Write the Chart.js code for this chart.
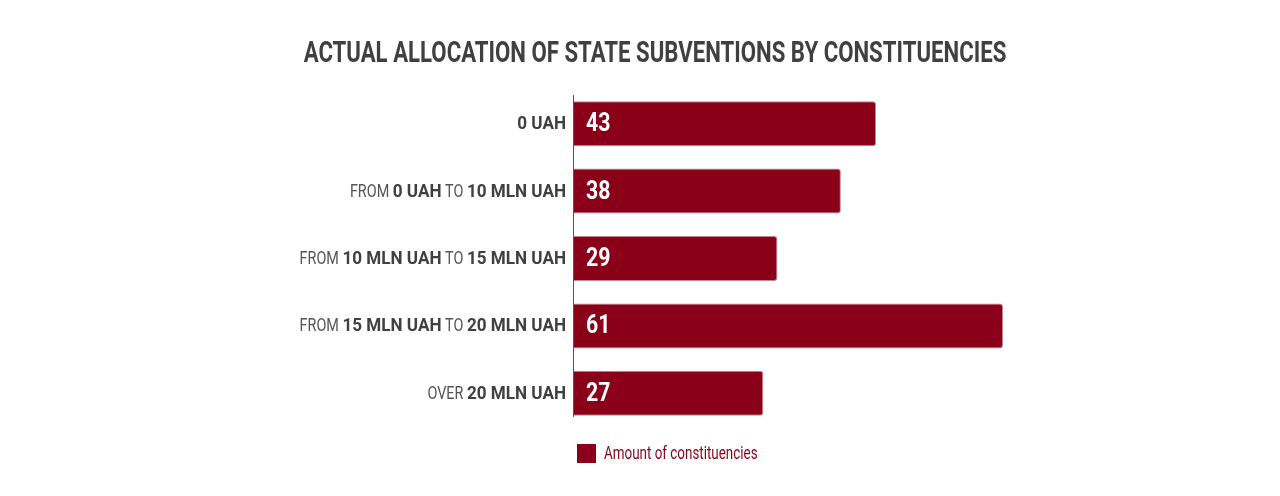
<!DOCTYPE html>
<html>
<head>
<meta charset="utf-8">
<script src="https://cdn.jsdelivr.net/npm/chart.js@4.4.0/dist/chart.umd.min.js"></script>
<style>
  html, body { margin: 0; padding: 0; background: #fff; }
  #wrap { width: 1280px; height: 496px; position: relative; }
</style>
</head>
<body>
<div id="wrap"><canvas id="subventionsChart"></canvas></div>
<script>
const chartTitle = "ACTUAL ALLOCATION OF STATE SUBVENTIONS BY CONSTITUENCIES";
const categories = [
  "0 UAH",
  "FROM 0 UAH TO 10 MLN UAH",
  "FROM 10 MLN UAH TO 15 MLN UAH",
  "FROM 15 MLN UAH TO 20 MLN UAH",
  "OVER 20 MLN UAH"
];
// label parts: [text, bold]
const categoryParts = [
  [["0 UAH", true]],
  [["FROM ", false], ["0 UAH", true], [" TO ", false], ["10 MLN UAH", true]],
  [["FROM ", false], ["10 MLN UAH", true], [" TO ", false], ["15 MLN UAH", true]],
  [["FROM ", false], ["15 MLN UAH", true], [" TO ", false], ["20 MLN UAH", true]],
  [["OVER ", false], ["20 MLN UAH", true]]
];
const seriesLabel = "Amount of constituencies";
const constituencies = [43, 38, 29, 61, 27];

const BAR_COLOR = "#8a0019";
const SQUEEZE_BOLD = 0.95;
const SQUEEZE_REG = 0.8;

function drawCondensed(ctx, text, x, y, font, color, align, squeeze) {
  ctx.save();
  ctx.font = font;
  ctx.fillStyle = color;
  ctx.textBaseline = "middle";
  ctx.textAlign = "left";
  const w = ctx.measureText(text).width * squeeze;
  let sx = x;
  if (align === "right") sx = x - w;
  if (align === "center") sx = x - w / 2;
  ctx.translate(sx, y);
  ctx.scale(squeeze, 1);
  ctx.fillText(text, 0, 0);
  ctx.restore();
  return w;
}

const decorPlugin = {
  id: "decor",
  afterDatasetsDraw(chart) {
    const ctx = chart.ctx;
    const area = chart.chartArea;
    const yScale = chart.scales.y;
    const meta = chart.getDatasetMeta(0);

    // title
    drawCondensed(ctx, chartTitle, 655, 55, "bold 29px Roboto", "#404040", "center", 0.765);

    // axis line
    ctx.save();
    ctx.strokeStyle = "#555";
    ctx.lineWidth = 1;
    ctx.beginPath();
    ctx.moveTo(Math.round(area.left) + 0.5, 95);
    ctx.lineTo(Math.round(area.left) + 0.5, 417);
    ctx.stroke();
    ctx.restore();

    // category labels with mixed weight
    categoryParts.forEach((parts, i) => {
      const y = yScale.getPixelForValue(i);
      let total = 0;
      parts.forEach(([t, b]) => {
        ctx.font = (b ? "bold " : "") + "18px Roboto";
        total += ctx.measureText(t).width * (b ? SQUEEZE_BOLD : SQUEEZE_REG);
      });
      let x = area.left - 7 - total;
      parts.forEach(([t, b]) => {
        x += drawCondensed(ctx, t, x, y + 1, (b ? "bold " : "") + "18px Roboto",
          b ? "#404040" : "#555555", "left", b ? SQUEEZE_BOLD : SQUEEZE_REG);
      });
    });

    // value labels inside bars
    meta.data.forEach((bar, i) => {
      drawCondensed(ctx, String(constituencies[i]), bar.base + 13, bar.y + 1,
        "bold 26px Roboto", "#ffffff", "left", 0.82);
    });

    // legend
    ctx.save();
    ctx.fillStyle = BAR_COLOR;
    ctx.fillRect(577, 444, 19, 19);
    ctx.restore();
    drawCondensed(ctx, seriesLabel, 604, 454, "19px Roboto", BAR_COLOR, "left", 0.706);
  }
};

new Chart(document.getElementById("subventionsChart"), {
  type: "bar",
  data: {
    labels: categories,
    datasets: [
      {
        label: seriesLabel,
        data: constituencies,
        backgroundColor: BAR_COLOR,
        borderColor: "#c7848e",
        borderWidth: 1,
        borderRadius: 3,
        borderSkipped: "left",
        categoryPercentage: 1,
        barPercentage: 0.667
      }
    ]
  },
  options: {
    indexAxis: "y",
    responsive: true,
    maintainAspectRatio: false,
    animation: false,
    layout: {
      padding: { left: 573, right: 277, top: 90, bottom: 69 }
    },
    plugins: {
      legend: { display: false },
      tooltip: { enabled: false },
      title: { display: false }
    },
    scales: {
      x: { display: false, min: 0, max: 61 },
      y: { display: false }
    }
  },
  plugins: [decorPlugin]
});
</script>
</body>
</html>
